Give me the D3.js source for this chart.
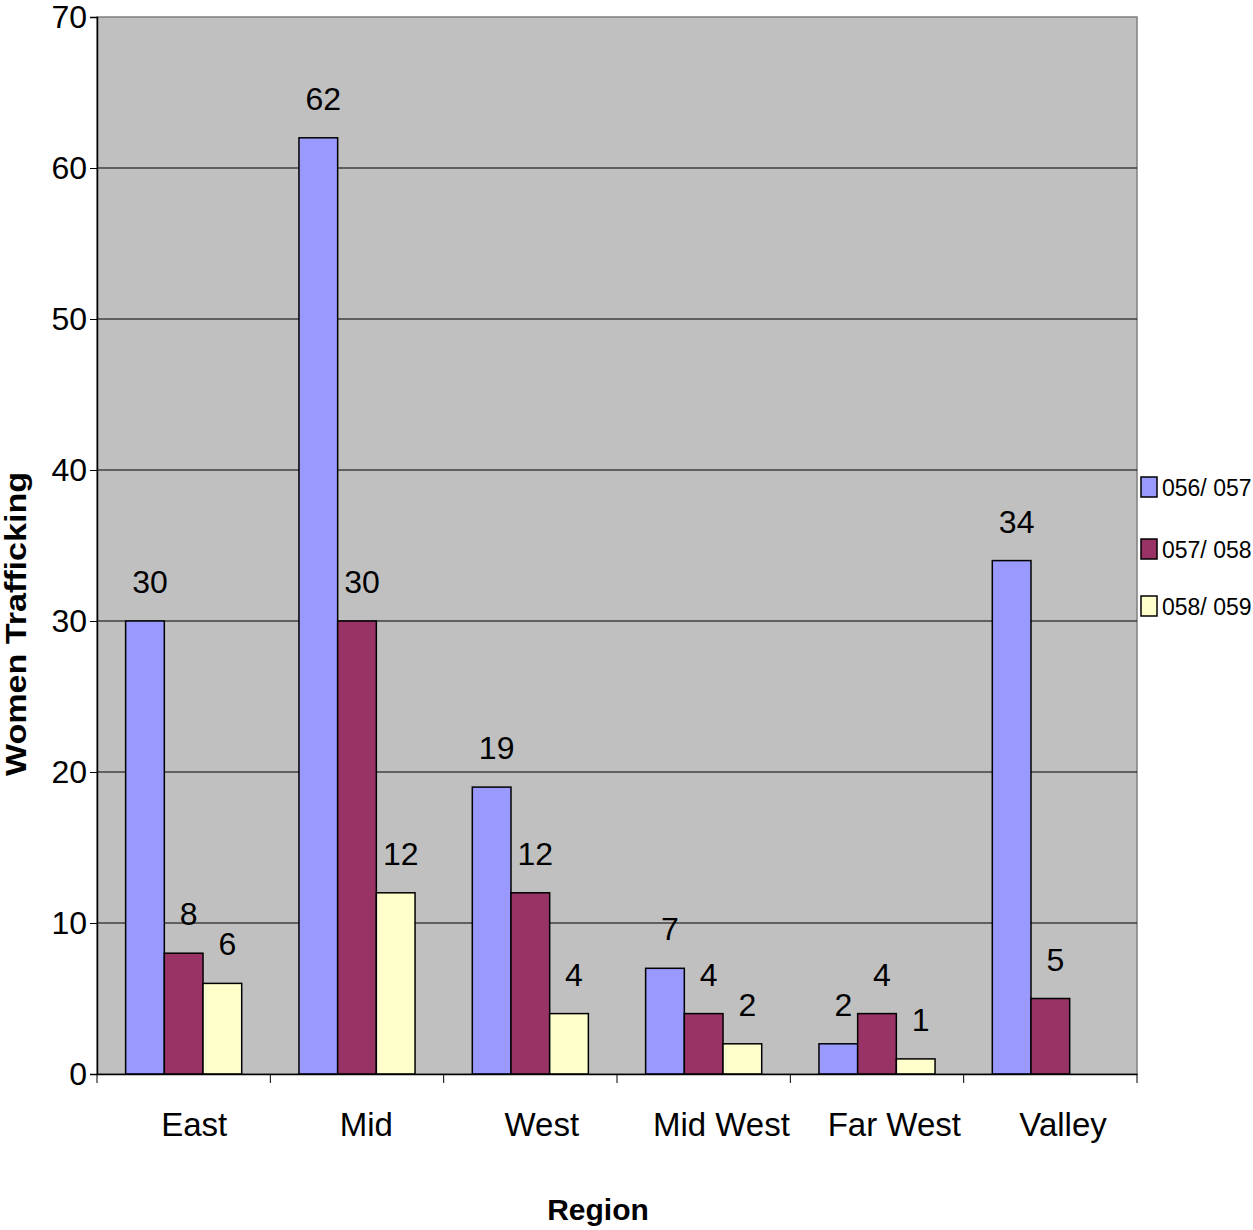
<!DOCTYPE html>
<html>
<head>
<meta charset="utf-8">
<script src="https://cdn.jsdelivr.net/npm/d3@7"></script>
<style>
  body { margin: 0; background: #fff; }
  text { font-family: "Liberation Sans", Arial, sans-serif; }
</style>
</head>
<body>
<svg id="chart" width="1253" height="1230"></svg>
<script>
// Regions and yearly counts of women trafficking cases
const regions = ["East", "Mid", "West", "Mid West", "Far West", "Valley"];
const seriesNames = ["056/ 057", "057/ 058", "058/ 059"];
const s056 = [30, 62, 19, 7, 2, 34];
const s057 = [8, 30, 12, 4, 4, 5];
const s058 = [6, 12, 4, 2, 1, null];
const yTicks = [0, 10, 20, 30, 40, 50, 60, 70];
const colors = ["#9999ff", "#993366", "#ffffcc"];

const series = [s056, s057, s058];

const svg = d3.select("#chart");
const plot = { left: 97, right: 1137, top: 17, bottom: 1074 };

const x = d3.scaleBand().domain(regions).range([plot.left, plot.right]).paddingInner(0).paddingOuter(0);
const y = d3.scaleLinear().domain([0, 70]).range([plot.bottom, plot.top]);
const xs = d3.scaleBand().domain(seriesNames).range([0, x.bandwidth()]).paddingInner(0).paddingOuter(0.74);

// plot background
svg.append("rect")
  .attr("x", plot.left).attr("y", plot.top)
  .attr("width", plot.right - plot.left).attr("height", plot.bottom - plot.top)
  .attr("fill", "#c0c0c0").attr("stroke", "#808080").attr("stroke-width", 1.5);

// horizontal gridlines
svg.append("g").selectAll("line")
  .data(yTicks.filter(d => d > 0 && d < 70))
  .join("line")
  .attr("x1", plot.left).attr("x2", plot.right)
  .attr("y1", d => y(d)).attr("y2", d => y(d))
  .attr("stroke", "#000").attr("stroke-width", 1);

// bars with value labels
const groups = svg.append("g").selectAll("g")
  .data(regions)
  .join("g")
  .attr("transform", d => `translate(${x(d)},0)`);

groups.each(function(region, i) {
  const g = d3.select(this);
  series.forEach((vals, k) => {
    const v = vals[i];
    if (v == null) return;
    g.append("rect")
      .attr("x", xs(seriesNames[k]))
      .attr("y", y(v))
      .attr("width", xs.bandwidth())
      .attr("height", y(0) - y(v))
      .attr("fill", colors[k])
      .attr("stroke", "#000")
      .attr("stroke-width", 1.5);
    g.append("text")
      .attr("x", xs(seriesNames[k]) + xs.bandwidth() / 2 + 5)
      .attr("y", y(v) - 28)
      .attr("text-anchor", "middle")
      .attr("font-size", 32)
      .attr("fill", "#000")
      .text(v);
  });
});

// y axis
const yAxis = svg.append("g")
  .attr("transform", `translate(${plot.left},0)`)
  .call(d3.axisLeft(y).tickValues(yTicks).tickSize(7).tickPadding(3).tickFormat(d3.format("d")));
yAxis.select(".domain").attr("stroke", "#000").attr("stroke-width", 1.5);
yAxis.selectAll(".tick line").attr("stroke", "#000");
yAxis.selectAll(".tick text")
  .attr("font-size", 32)
  .attr("font-family", "Liberation Sans, Arial, sans-serif")
  .attr("fill", "#000");

// x axis
const xAxis = svg.append("g")
  .attr("transform", `translate(0,${plot.bottom})`)
  .call(d3.axisBottom(x).tickSize(0).tickPadding(0));
xAxis.select(".domain").attr("stroke", "#000").attr("stroke-width", 1.5);
xAxis.selectAll(".tick text")
  .attr("font-size", 33)
  .attr("font-family", "Liberation Sans, Arial, sans-serif")
  .attr("fill", "#000")
  .attr("y", 62)
  .attr("dy", 0)
  .each(function() {
    // labels sit a little right of the band centre, more so for longer names
    const w = this.getComputedTextLength();
    d3.select(this).attr("dx", 4 + 0.1 * w);
  });

// tick marks at category boundaries
const bounds = regions.map(r => x(r)).concat([plot.right]);
svg.append("g").selectAll("line")
  .data(bounds)
  .join("line")
  .attr("x1", d => d).attr("x2", d => d)
  .attr("y1", plot.bottom).attr("y2", plot.bottom + 9)
  .attr("stroke", "#000").attr("stroke-width", 1);

// axis titles
svg.append("text")
  .attr("x", 598).attr("y", 1220)
  .attr("text-anchor", "middle")
  .attr("font-size", 30).attr("font-weight", "bold")
  .text("Region");

svg.append("text")
  .attr("transform", "translate(26,624) rotate(-90)")
  .attr("text-anchor", "middle")
  .attr("font-size", 30).attr("font-weight", "bold")
  .attr("textLength", 304).attr("lengthAdjust", "spacingAndGlyphs")
  .text("Women Trafficking");

// legend
const legend = svg.append("g").selectAll("g")
  .data(seriesNames)
  .join("g")
  .attr("transform", (d, i) => `translate(1141,${[477, 539, 596][i]})`);
legend.append("rect")
  .attr("width", 16).attr("height", 20)
  .attr("fill", (d, i) => colors[i])
  .attr("stroke", "#000").attr("stroke-width", 1.5);
legend.append("text")
  .attr("x", 21).attr("y", 19)
  .attr("font-size", 23)
  .text(d => d);
</script>
</body>
</html>
